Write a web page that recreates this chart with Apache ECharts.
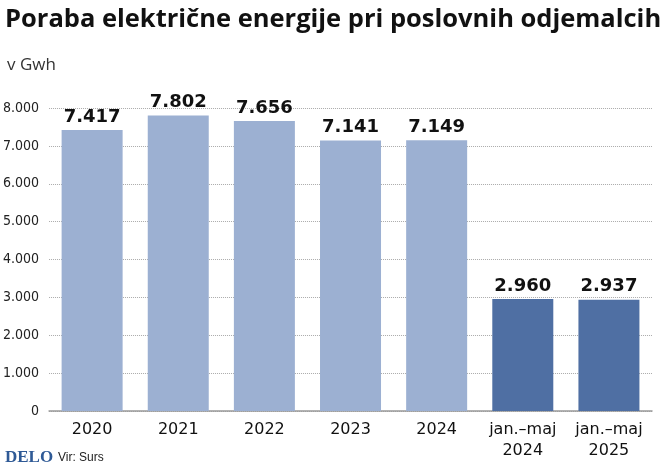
<!DOCTYPE html>
<html>
<head>
<meta charset="utf-8">
<script src="https://cdn.jsdelivr.net/npm/echarts@6/dist/echarts.min.js"></script>
<style>
body { margin: 0; background: #fff; }
#chart { width: 660px; height: 472px; }
</style>
</head>
<body>
<div id="chart"></div>
<script>
const categories = ['2020', '2021', '2022', '2023', '2024', 'jan.–maj\n2024', 'jan.–maj\n2025']
const values = [7417, 7802, 7656, 7141, 7149, 2960, 2937]
const yTicks = [0, 1000, 2000, 3000, 4000, 5000, 6000, 7000, 8000]

const lightBlue = '#9cb0d2'
const darkBlue = '#4f6fa3'

let myChart = echarts.init(document.getElementById('chart'))

const fmt = v => v === 0 ? '0' : String(v).replace(/\B(?=(\d{3})+$)/g, '.')

const option = {
    animation: false,
    title: [
        { text: 'Poraba električne energije pri poslovnih odjemalcih', left: 0, top: 2,
          textStyle: { fontFamily: 'Open Sans', fontWeight: 'bold', fontSize: 25.5, color: '#111' } },
        { text: 'v Gwh', left: 2, top: 52,
          textStyle: { fontFamily: 'Open Sans', fontWeight: 'normal', fontSize: 17, color: '#333' } },
        { text: 'DELO', left: 0, top: 444,
          textStyle: { fontFamily: 'Liberation Serif', fontWeight: 'bold', fontSize: 17, color: '#2f5a96' } },
        { text: 'Vir: Surs', left: 53, top: 447,
          textStyle: { fontFamily: 'Liberation Sans', fontWeight: 'normal', fontSize: 12, color: '#222' } }
    ],
    grid: { left: 42, right: 8, top: 108, bottom: 61 },
    xAxis: {
        type: 'category',
        data: categories,
        axisLine: { lineStyle: { color: '#999', width: 1.5 } },
        axisTick: { show: false },
        axisLabel: { interval: 0, fontFamily: 'DejaVu Sans', fontSize: 16, color: '#111', margin: 8, lineHeight: 21 }
    },
    yAxis: {
        type: 'value',
        min: 0, max: 8000, interval: 1000,
        axisLine: { show: false },
        axisTick: { show: false },
        splitLine: { lineStyle: { color: '#aaa', type: 'dotted' } },
        axisLabel: {
            fontFamily: 'DejaVu Sans Condensed', fontSize: 14, color: '#222', margin: 10,
            formatter: v => yTicks.includes(v) ? fmt(v) : ''
        }
    },
    series: [{
        type: 'bar',
        barWidth: 61,
        data: values.map((v, i) => ({ value: v, itemStyle: { color: i < 5 ? lightBlue : darkBlue } })),
        label: {
            show: true, position: 'top', distance: 4,
            fontFamily: 'DejaVu Sans', fontWeight: 'bold', fontSize: 18, color: '#111',
            formatter: p => fmt(p.value)
        }
    }]
}

myChart.setOption(option)
</script>
</body>
</html>
